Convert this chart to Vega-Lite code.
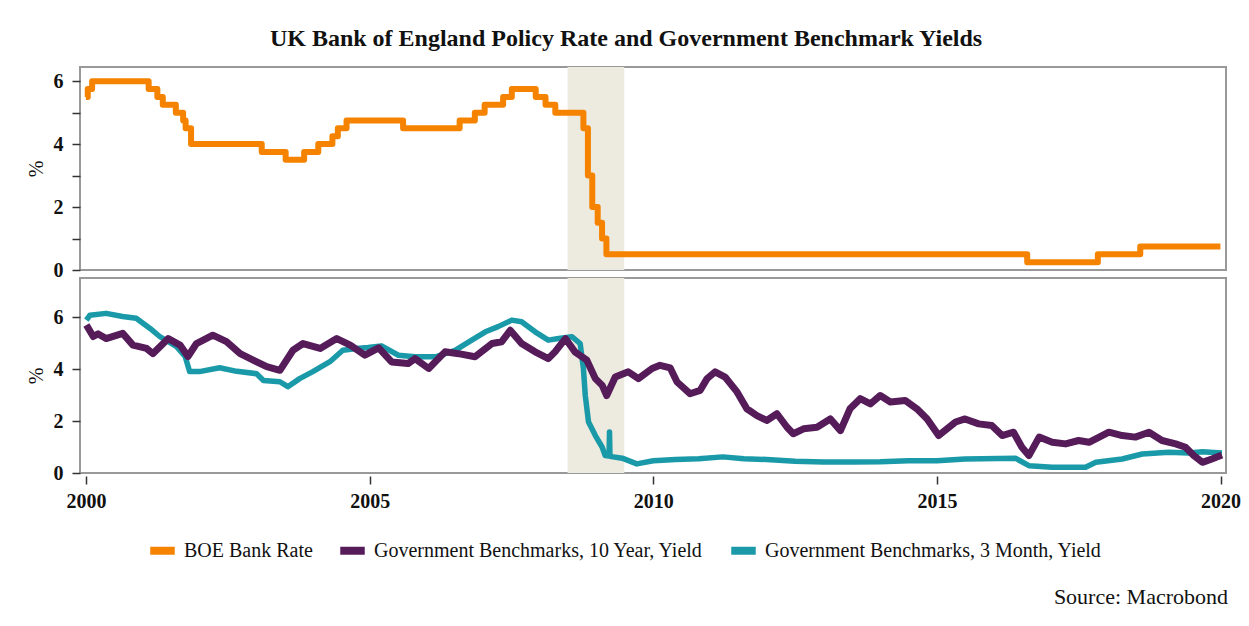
{
  "$schema": "https://vega.github.io/schema/vega-lite/v6.json",
  "background": "white",
  "padding": {"left": 25, "top": 26, "right": 10, "bottom": 10},
  "spacing": 8,
  "bounds": "flush",
  "title": {"text": "Source: Macrobond", "orient": "bottom", "anchor": "end", "frame": "group", "font": "Liberation Serif", "fontSize": 22, "fontWeight": "normal", "color": "#111", "offset": 20, "dx": 2},
  "config": {
    "view": {"stroke": "#999", "strokeWidth": 2},
    "axis": {"labelFont": "Liberation Serif", "labelFontSize": 20, "labelFontWeight": "bold", "labelColor": "#111", "titleFont": "Liberation Serif", "titleFontSize": 20, "titleFontWeight": "normal", "titleColor": "#111", "tickColor": "#333", "tickWidth": 1.5, "tickSize": 8, "domain": false, "grid": false},
    "legend": {"labelFont": "Liberation Serif", "labelFontSize": 20, "labelColor": "#111", "labelLimit": 0}
  },
  "datasets": {
    "rec": [{"a": "2008-06-28", "b": "2009-06-28"}],
    "boe": [
      {"d": "2000-01-01", "v": 5.5, "s": "BOE Bank Rate"},
      {"d": "2000-01-13", "v": 5.75, "s": "BOE Bank Rate"},
      {"d": "2000-02-10", "v": 6.0, "s": "BOE Bank Rate"},
      {"d": "2001-02-08", "v": 5.75, "s": "BOE Bank Rate"},
      {"d": "2001-04-05", "v": 5.5, "s": "BOE Bank Rate"},
      {"d": "2001-05-10", "v": 5.25, "s": "BOE Bank Rate"},
      {"d": "2001-08-02", "v": 5.0, "s": "BOE Bank Rate"},
      {"d": "2001-09-18", "v": 4.75, "s": "BOE Bank Rate"},
      {"d": "2001-10-04", "v": 4.5, "s": "BOE Bank Rate"},
      {"d": "2001-11-08", "v": 4.0, "s": "BOE Bank Rate"},
      {"d": "2003-02-06", "v": 3.75, "s": "BOE Bank Rate"},
      {"d": "2003-07-10", "v": 3.5, "s": "BOE Bank Rate"},
      {"d": "2003-11-06", "v": 3.75, "s": "BOE Bank Rate"},
      {"d": "2004-02-05", "v": 4.0, "s": "BOE Bank Rate"},
      {"d": "2004-05-06", "v": 4.25, "s": "BOE Bank Rate"},
      {"d": "2004-06-10", "v": 4.5, "s": "BOE Bank Rate"},
      {"d": "2004-08-05", "v": 4.75, "s": "BOE Bank Rate"},
      {"d": "2005-08-04", "v": 4.5, "s": "BOE Bank Rate"},
      {"d": "2006-08-03", "v": 4.75, "s": "BOE Bank Rate"},
      {"d": "2006-11-09", "v": 5.0, "s": "BOE Bank Rate"},
      {"d": "2007-01-11", "v": 5.25, "s": "BOE Bank Rate"},
      {"d": "2007-05-10", "v": 5.5, "s": "BOE Bank Rate"},
      {"d": "2007-07-05", "v": 5.75, "s": "BOE Bank Rate"},
      {"d": "2007-12-06", "v": 5.5, "s": "BOE Bank Rate"},
      {"d": "2008-02-07", "v": 5.25, "s": "BOE Bank Rate"},
      {"d": "2008-04-10", "v": 5.0, "s": "BOE Bank Rate"},
      {"d": "2008-10-08", "v": 4.5, "s": "BOE Bank Rate"},
      {"d": "2008-11-06", "v": 3.0, "s": "BOE Bank Rate"},
      {"d": "2008-12-04", "v": 2.0, "s": "BOE Bank Rate"},
      {"d": "2009-01-08", "v": 1.5, "s": "BOE Bank Rate"},
      {"d": "2009-02-05", "v": 1.0, "s": "BOE Bank Rate"},
      {"d": "2009-03-05", "v": 0.5, "s": "BOE Bank Rate"},
      {"d": "2016-08-04", "v": 0.25, "s": "BOE Bank Rate"},
      {"d": "2017-11-02", "v": 0.5, "s": "BOE Bank Rate"},
      {"d": "2018-08-02", "v": 0.75, "s": "BOE Bank Rate"},
      {"d": "2019-12-31", "v": 0.75, "s": "BOE Bank Rate"}
    ],
    "y10": [
      {"d": "2000-01-04", "v": 5.69, "s": "Government Benchmarks, 10 Year, Yield"},
      {"d": "2000-02-17", "v": 5.25, "s": "Government Benchmarks, 10 Year, Yield"},
      {"d": "2000-03-20", "v": 5.35, "s": "Government Benchmarks, 10 Year, Yield"},
      {"d": "2000-05-10", "v": 5.17, "s": "Government Benchmarks, 10 Year, Yield"},
      {"d": "2000-08-25", "v": 5.37, "s": "Government Benchmarks, 10 Year, Yield"},
      {"d": "2000-10-30", "v": 4.92, "s": "Government Benchmarks, 10 Year, Yield"},
      {"d": "2001-01-26", "v": 4.79, "s": "Government Benchmarks, 10 Year, Yield"},
      {"d": "2001-03-07", "v": 4.59, "s": "Government Benchmarks, 10 Year, Yield"},
      {"d": "2001-06-14", "v": 5.17, "s": "Government Benchmarks, 10 Year, Yield"},
      {"d": "2001-08-29", "v": 4.92, "s": "Government Benchmarks, 10 Year, Yield"},
      {"d": "2001-10-19", "v": 4.48, "s": "Government Benchmarks, 10 Year, Yield"},
      {"d": "2001-12-13", "v": 4.98, "s": "Government Benchmarks, 10 Year, Yield"},
      {"d": "2002-03-28", "v": 5.3, "s": "Government Benchmarks, 10 Year, Yield"},
      {"d": "2002-06-24", "v": 5.05, "s": "Government Benchmarks, 10 Year, Yield"},
      {"d": "2002-09-20", "v": 4.59, "s": "Government Benchmarks, 10 Year, Yield"},
      {"d": "2002-12-13", "v": 4.34, "s": "Government Benchmarks, 10 Year, Yield"},
      {"d": "2003-03-10", "v": 4.09, "s": "Government Benchmarks, 10 Year, Yield"},
      {"d": "2003-06-03", "v": 3.95, "s": "Government Benchmarks, 10 Year, Yield"},
      {"d": "2003-08-26", "v": 4.72, "s": "Government Benchmarks, 10 Year, Yield"},
      {"d": "2003-10-30", "v": 4.98, "s": "Government Benchmarks, 10 Year, Yield"},
      {"d": "2004-02-17", "v": 4.79, "s": "Government Benchmarks, 10 Year, Yield"},
      {"d": "2004-06-03", "v": 5.17, "s": "Government Benchmarks, 10 Year, Yield"},
      {"d": "2004-08-29", "v": 4.92, "s": "Government Benchmarks, 10 Year, Yield"},
      {"d": "2004-12-01", "v": 4.53, "s": "Government Benchmarks, 10 Year, Yield"},
      {"d": "2005-02-28", "v": 4.81, "s": "Government Benchmarks, 10 Year, Yield"},
      {"d": "2005-05-22", "v": 4.27, "s": "Government Benchmarks, 10 Year, Yield"},
      {"d": "2005-09-05", "v": 4.21, "s": "Government Benchmarks, 10 Year, Yield"},
      {"d": "2005-10-20", "v": 4.4, "s": "Government Benchmarks, 10 Year, Yield"},
      {"d": "2006-01-16", "v": 4.02, "s": "Government Benchmarks, 10 Year, Yield"},
      {"d": "2006-05-01", "v": 4.66, "s": "Government Benchmarks, 10 Year, Yield"},
      {"d": "2006-07-27", "v": 4.59, "s": "Government Benchmarks, 10 Year, Yield"},
      {"d": "2006-11-10", "v": 4.47, "s": "Government Benchmarks, 10 Year, Yield"},
      {"d": "2007-02-28", "v": 4.98, "s": "Government Benchmarks, 10 Year, Yield"},
      {"d": "2007-05-01", "v": 5.05, "s": "Government Benchmarks, 10 Year, Yield"},
      {"d": "2007-06-25", "v": 5.49, "s": "Government Benchmarks, 10 Year, Yield"},
      {"d": "2007-09-06", "v": 4.98, "s": "Government Benchmarks, 10 Year, Yield"},
      {"d": "2007-12-02", "v": 4.66, "s": "Government Benchmarks, 10 Year, Yield"},
      {"d": "2008-02-25", "v": 4.4, "s": "Government Benchmarks, 10 Year, Yield"},
      {"d": "2008-04-08", "v": 4.66, "s": "Government Benchmarks, 10 Year, Yield"},
      {"d": "2008-06-14", "v": 5.17, "s": "Government Benchmarks, 10 Year, Yield"},
      {"d": "2008-08-14", "v": 4.66, "s": "Government Benchmarks, 10 Year, Yield"},
      {"d": "2008-10-30", "v": 4.34, "s": "Government Benchmarks, 10 Year, Yield"},
      {"d": "2008-12-24", "v": 3.63, "s": "Government Benchmarks, 10 Year, Yield"},
      {"d": "2009-02-06", "v": 3.37, "s": "Government Benchmarks, 10 Year, Yield"},
      {"d": "2009-03-07", "v": 2.98, "s": "Government Benchmarks, 10 Year, Yield"},
      {"d": "2009-05-01", "v": 3.69, "s": "Government Benchmarks, 10 Year, Yield"},
      {"d": "2009-07-24", "v": 3.89, "s": "Government Benchmarks, 10 Year, Yield"},
      {"d": "2009-09-27", "v": 3.63, "s": "Government Benchmarks, 10 Year, Yield"},
      {"d": "2009-12-24", "v": 4.02, "s": "Government Benchmarks, 10 Year, Yield"},
      {"d": "2010-02-13", "v": 4.14, "s": "Government Benchmarks, 10 Year, Yield"},
      {"d": "2010-04-20", "v": 4.04, "s": "Government Benchmarks, 10 Year, Yield"},
      {"d": "2010-06-03", "v": 3.5, "s": "Government Benchmarks, 10 Year, Yield"},
      {"d": "2010-08-25", "v": 3.05, "s": "Government Benchmarks, 10 Year, Yield"},
      {"d": "2010-10-30", "v": 3.18, "s": "Government Benchmarks, 10 Year, Yield"},
      {"d": "2010-12-13", "v": 3.63, "s": "Government Benchmarks, 10 Year, Yield"},
      {"d": "2011-02-03", "v": 3.89, "s": "Government Benchmarks, 10 Year, Yield"},
      {"d": "2011-04-08", "v": 3.69, "s": "Government Benchmarks, 10 Year, Yield"},
      {"d": "2011-06-24", "v": 3.12, "s": "Government Benchmarks, 10 Year, Yield"},
      {"d": "2011-08-26", "v": 2.47, "s": "Government Benchmarks, 10 Year, Yield"},
      {"d": "2011-10-30", "v": 2.21, "s": "Government Benchmarks, 10 Year, Yield"},
      {"d": "2012-01-01", "v": 2.02, "s": "Government Benchmarks, 10 Year, Yield"},
      {"d": "2012-03-07", "v": 2.28, "s": "Government Benchmarks, 10 Year, Yield"},
      {"d": "2012-05-11", "v": 1.76, "s": "Government Benchmarks, 10 Year, Yield"},
      {"d": "2012-06-20", "v": 1.51, "s": "Government Benchmarks, 10 Year, Yield"},
      {"d": "2012-08-25", "v": 1.7, "s": "Government Benchmarks, 10 Year, Yield"},
      {"d": "2012-11-20", "v": 1.76, "s": "Government Benchmarks, 10 Year, Yield"},
      {"d": "2013-02-13", "v": 2.08, "s": "Government Benchmarks, 10 Year, Yield"},
      {"d": "2013-04-20", "v": 1.63, "s": "Government Benchmarks, 10 Year, Yield"},
      {"d": "2013-06-20", "v": 2.47, "s": "Government Benchmarks, 10 Year, Yield"},
      {"d": "2013-08-25", "v": 2.86, "s": "Government Benchmarks, 10 Year, Yield"},
      {"d": "2013-10-30", "v": 2.66, "s": "Government Benchmarks, 10 Year, Yield"},
      {"d": "2014-01-01", "v": 2.98, "s": "Government Benchmarks, 10 Year, Yield"},
      {"d": "2014-03-07", "v": 2.73, "s": "Government Benchmarks, 10 Year, Yield"},
      {"d": "2014-06-10", "v": 2.79, "s": "Government Benchmarks, 10 Year, Yield"},
      {"d": "2014-08-25", "v": 2.47, "s": "Government Benchmarks, 10 Year, Yield"},
      {"d": "2014-10-30", "v": 2.08, "s": "Government Benchmarks, 10 Year, Yield"},
      {"d": "2015-01-12", "v": 1.44, "s": "Government Benchmarks, 10 Year, Yield"},
      {"d": "2015-05-01", "v": 1.96, "s": "Government Benchmarks, 10 Year, Yield"},
      {"d": "2015-07-01", "v": 2.08, "s": "Government Benchmarks, 10 Year, Yield"},
      {"d": "2015-09-27", "v": 1.89, "s": "Government Benchmarks, 10 Year, Yield"},
      {"d": "2015-12-20", "v": 1.83, "s": "Government Benchmarks, 10 Year, Yield"},
      {"d": "2016-02-25", "v": 1.44, "s": "Government Benchmarks, 10 Year, Yield"},
      {"d": "2016-05-08", "v": 1.57, "s": "Government Benchmarks, 10 Year, Yield"},
      {"d": "2016-07-01", "v": 0.99, "s": "Government Benchmarks, 10 Year, Yield"},
      {"d": "2016-08-15", "v": 0.67, "s": "Government Benchmarks, 10 Year, Yield"},
      {"d": "2016-10-20", "v": 1.38, "s": "Government Benchmarks, 10 Year, Yield"},
      {"d": "2017-01-12", "v": 1.18, "s": "Government Benchmarks, 10 Year, Yield"},
      {"d": "2017-04-08", "v": 1.12, "s": "Government Benchmarks, 10 Year, Yield"},
      {"d": "2017-07-01", "v": 1.25, "s": "Government Benchmarks, 10 Year, Yield"},
      {"d": "2017-09-06", "v": 1.18, "s": "Government Benchmarks, 10 Year, Yield"},
      {"d": "2018-01-12", "v": 1.57, "s": "Government Benchmarks, 10 Year, Yield"},
      {"d": "2018-04-08", "v": 1.44, "s": "Government Benchmarks, 10 Year, Yield"},
      {"d": "2018-07-01", "v": 1.38, "s": "Government Benchmarks, 10 Year, Yield"},
      {"d": "2018-09-27", "v": 1.57, "s": "Government Benchmarks, 10 Year, Yield"},
      {"d": "2018-12-20", "v": 1.25, "s": "Government Benchmarks, 10 Year, Yield"},
      {"d": "2019-03-18", "v": 1.12, "s": "Government Benchmarks, 10 Year, Yield"},
      {"d": "2019-05-20", "v": 0.99, "s": "Government Benchmarks, 10 Year, Yield"},
      {"d": "2019-07-12", "v": 0.67, "s": "Government Benchmarks, 10 Year, Yield"},
      {"d": "2019-09-06", "v": 0.41, "s": "Government Benchmarks, 10 Year, Yield"},
      {"d": "2019-11-06", "v": 0.54, "s": "Government Benchmarks, 10 Year, Yield"},
      {"d": "2020-01-10", "v": 0.69, "s": "Government Benchmarks, 10 Year, Yield"}
    ],
    "m3": [
      {"d": "2000-01-04", "v": 5.88, "s": "Government Benchmarks, 3 Month, Yield"},
      {"d": "2000-01-27", "v": 6.07, "s": "Government Benchmarks, 3 Month, Yield"},
      {"d": "2000-05-10", "v": 6.14, "s": "Government Benchmarks, 3 Month, Yield"},
      {"d": "2000-08-25", "v": 6.02, "s": "Government Benchmarks, 3 Month, Yield"},
      {"d": "2000-11-20", "v": 5.95, "s": "Government Benchmarks, 3 Month, Yield"},
      {"d": "2001-02-17", "v": 5.56, "s": "Government Benchmarks, 3 Month, Yield"},
      {"d": "2001-04-20", "v": 5.25, "s": "Government Benchmarks, 3 Month, Yield"},
      {"d": "2001-08-07", "v": 4.86, "s": "Government Benchmarks, 3 Month, Yield"},
      {"d": "2001-10-01", "v": 4.48, "s": "Government Benchmarks, 3 Month, Yield"},
      {"d": "2001-10-30", "v": 3.9, "s": "Government Benchmarks, 3 Month, Yield"},
      {"d": "2002-01-01", "v": 3.9, "s": "Government Benchmarks, 3 Month, Yield"},
      {"d": "2002-05-11", "v": 4.05, "s": "Government Benchmarks, 3 Month, Yield"},
      {"d": "2002-08-29", "v": 3.91, "s": "Government Benchmarks, 3 Month, Yield"},
      {"d": "2003-01-04", "v": 3.82, "s": "Government Benchmarks, 3 Month, Yield"},
      {"d": "2003-02-17", "v": 3.56, "s": "Government Benchmarks, 3 Month, Yield"},
      {"d": "2003-06-03", "v": 3.51, "s": "Government Benchmarks, 3 Month, Yield"},
      {"d": "2003-07-24", "v": 3.32, "s": "Government Benchmarks, 3 Month, Yield"},
      {"d": "2003-10-08", "v": 3.63, "s": "Government Benchmarks, 3 Month, Yield"},
      {"d": "2004-01-01", "v": 3.9, "s": "Government Benchmarks, 3 Month, Yield"},
      {"d": "2004-04-20", "v": 4.28, "s": "Government Benchmarks, 3 Month, Yield"},
      {"d": "2004-07-12", "v": 4.72, "s": "Government Benchmarks, 3 Month, Yield"},
      {"d": "2004-10-08", "v": 4.79, "s": "Government Benchmarks, 3 Month, Yield"},
      {"d": "2004-12-20", "v": 4.83, "s": "Government Benchmarks, 3 Month, Yield"},
      {"d": "2005-03-18", "v": 4.89, "s": "Government Benchmarks, 3 Month, Yield"},
      {"d": "2005-07-05", "v": 4.53, "s": "Government Benchmarks, 3 Month, Yield"},
      {"d": "2005-10-20", "v": 4.47, "s": "Government Benchmarks, 3 Month, Yield"},
      {"d": "2006-03-01", "v": 4.47, "s": "Government Benchmarks, 3 Month, Yield"},
      {"d": "2006-07-05", "v": 4.72, "s": "Government Benchmarks, 3 Month, Yield"},
      {"d": "2006-10-20", "v": 5.11, "s": "Government Benchmarks, 3 Month, Yield"},
      {"d": "2007-01-16", "v": 5.43, "s": "Government Benchmarks, 3 Month, Yield"},
      {"d": "2007-04-08", "v": 5.63, "s": "Government Benchmarks, 3 Month, Yield"},
      {"d": "2007-07-05", "v": 5.88, "s": "Government Benchmarks, 3 Month, Yield"},
      {"d": "2007-09-06", "v": 5.82, "s": "Government Benchmarks, 3 Month, Yield"},
      {"d": "2007-12-02", "v": 5.43, "s": "Government Benchmarks, 3 Month, Yield"},
      {"d": "2008-02-25", "v": 5.11, "s": "Government Benchmarks, 3 Month, Yield"},
      {"d": "2008-05-01", "v": 5.17, "s": "Government Benchmarks, 3 Month, Yield"},
      {"d": "2008-07-27", "v": 5.24, "s": "Government Benchmarks, 3 Month, Yield"},
      {"d": "2008-09-17", "v": 4.98, "s": "Government Benchmarks, 3 Month, Yield"},
      {"d": "2008-10-08", "v": 4.02, "s": "Government Benchmarks, 3 Month, Yield"},
      {"d": "2008-10-20", "v": 2.98, "s": "Government Benchmarks, 3 Month, Yield"},
      {"d": "2008-11-10", "v": 1.96, "s": "Government Benchmarks, 3 Month, Yield"},
      {"d": "2008-12-24", "v": 1.44, "s": "Government Benchmarks, 3 Month, Yield"},
      {"d": "2009-02-06", "v": 0.99, "s": "Government Benchmarks, 3 Month, Yield"},
      {"d": "2009-02-25", "v": 0.67, "s": "Government Benchmarks, 3 Month, Yield"},
      {"d": "2009-03-22", "v": 0.65, "s": "Government Benchmarks, 3 Month, Yield"},
      {"d": "2009-03-25", "v": 1.58, "s": "Government Benchmarks, 3 Month, Yield"},
      {"d": "2009-03-28", "v": 0.64, "s": "Government Benchmarks, 3 Month, Yield"},
      {"d": "2009-06-14", "v": 0.57, "s": "Government Benchmarks, 3 Month, Yield"},
      {"d": "2009-09-17", "v": 0.35, "s": "Government Benchmarks, 3 Month, Yield"},
      {"d": "2010-01-01", "v": 0.47, "s": "Government Benchmarks, 3 Month, Yield"},
      {"d": "2010-05-25", "v": 0.52, "s": "Government Benchmarks, 3 Month, Yield"},
      {"d": "2010-10-20", "v": 0.55, "s": "Government Benchmarks, 3 Month, Yield"},
      {"d": "2011-03-25", "v": 0.62, "s": "Government Benchmarks, 3 Month, Yield"},
      {"d": "2011-08-07", "v": 0.55, "s": "Government Benchmarks, 3 Month, Yield"},
      {"d": "2012-01-01", "v": 0.52, "s": "Government Benchmarks, 3 Month, Yield"},
      {"d": "2012-07-01", "v": 0.45, "s": "Government Benchmarks, 3 Month, Yield"},
      {"d": "2013-01-01", "v": 0.42, "s": "Government Benchmarks, 3 Month, Yield"},
      {"d": "2013-07-01", "v": 0.42, "s": "Government Benchmarks, 3 Month, Yield"},
      {"d": "2014-01-01", "v": 0.43, "s": "Government Benchmarks, 3 Month, Yield"},
      {"d": "2014-07-01", "v": 0.47, "s": "Government Benchmarks, 3 Month, Yield"},
      {"d": "2015-01-01", "v": 0.47, "s": "Government Benchmarks, 3 Month, Yield"},
      {"d": "2015-07-01", "v": 0.54, "s": "Government Benchmarks, 3 Month, Yield"},
      {"d": "2016-05-20", "v": 0.57, "s": "Government Benchmarks, 3 Month, Yield"},
      {"d": "2016-08-15", "v": 0.28, "s": "Government Benchmarks, 3 Month, Yield"},
      {"d": "2017-01-12", "v": 0.22, "s": "Government Benchmarks, 3 Month, Yield"},
      {"d": "2017-08-15", "v": 0.22, "s": "Government Benchmarks, 3 Month, Yield"},
      {"d": "2017-10-20", "v": 0.41, "s": "Government Benchmarks, 3 Month, Yield"},
      {"d": "2018-04-08", "v": 0.54, "s": "Government Benchmarks, 3 Month, Yield"},
      {"d": "2018-08-15", "v": 0.73, "s": "Government Benchmarks, 3 Month, Yield"},
      {"d": "2019-02-01", "v": 0.8, "s": "Government Benchmarks, 3 Month, Yield"},
      {"d": "2019-06-10", "v": 0.77, "s": "Government Benchmarks, 3 Month, Yield"},
      {"d": "2019-09-06", "v": 0.82, "s": "Government Benchmarks, 3 Month, Yield"},
      {"d": "2020-01-10", "v": 0.77, "s": "Government Benchmarks, 3 Month, Yield"}
    ]
  },
  "resolve": {"scale": {"color": "shared"}},
  "vconcat": [
    {
      "width": 1146,
      "height": 203,
      "title": {"text": "UK Bank of England Policy Rate and Government Benchmark Yields", "anchor": "middle", "frame": "bounds", "font": "Liberation Serif", "fontSize": 24, "fontWeight": "bold", "color": "#111", "offset": 16},
      "layer": [
        {
          "data": {"name": "rec"},
          "mark": {"type": "rect", "color": "#EDEAE0"},
          "encoding": {
            "x": {"field": "a", "type": "temporal", "scale": {"type": "utc", "domain": [{"year": 1999, "month": 11, "date": 24, "utc": true}, {"year": 2020, "month": 2, "date": 5, "utc": true}]}, "axis": null},
            "x2": {"field": "b"}
          }
        },
        {
          "data": {"name": "boe"},
          "mark": {"type": "line", "strokeWidth": 6, "interpolate": "step-after", "strokeJoin": "round"},
          "encoding": {
            "x": {"field": "d", "type": "temporal", "scale": {"type": "utc", "domain": [{"year": 1999, "month": 11, "date": 24, "utc": true}, {"year": 2020, "month": 2, "date": 5, "utc": true}]}, "axis": null},
            "y": {"field": "v", "type": "quantitative", "scale": {"domain": [0, 6.45], "nice": false}, "axis": {"title": "%", "values": [0, 1, 2, 3, 4, 5, 6], "labelExpr": "datum.value % 2 === 0 ? datum.label : ''", "labelPadding": 9, "titlePadding": 7}},
            "color": {"field": "s", "type": "nominal", "scale": {"domain": ["BOE Bank Rate", "Government Benchmarks, 10 Year, Yield", "Government Benchmarks, 3 Month, Yield"], "range": ["#F58300", "#561C5A", "#1A9AA8"]}, "legend": {"title": null, "orient": "none", "legendX": 66, "legendY": 467, "direction": "horizontal", "symbolType": "stroke", "symbolStrokeWidth": 8, "symbolSize": 600, "columnPadding": 11, "labelOffset": 5}}
          }
        }
      ]
    },
    {
      "width": 1146,
      "height": 195,
      "layer": [
        {
          "data": {"name": "rec"},
          "mark": {"type": "rect", "color": "#EDEAE0"},
          "encoding": {
            "x": {"field": "a", "type": "temporal", "scale": {"type": "utc", "domain": [{"year": 1999, "month": 11, "date": 24, "utc": true}, {"year": 2020, "month": 2, "date": 5, "utc": true}]}, "axis": {"title": null, "format": "%Y", "values": [{"year": 2000, "utc": true}, {"year": 2005, "utc": true}, {"year": 2010, "utc": true}, {"year": 2015, "utc": true}, {"year": 2020, "utc": true}], "offset": 3, "labelPadding": 7}},
            "x2": {"field": "b"}
          }
        },
        {
          "data": {"name": "m3"},
          "mark": {"type": "line", "strokeWidth": 5.5, "strokeJoin": "round"},
          "encoding": {
            "x": {"field": "d", "type": "temporal"},
            "y": {"field": "v", "type": "quantitative", "scale": {"domain": [0, 7.5], "nice": false}, "axis": {"title": "%", "values": [0, 1, 2, 3, 4, 5, 6, 7], "labelExpr": "datum.value % 2 === 0 ? datum.label : ''", "labelPadding": 9, "titlePadding": 7}},
            "color": {"field": "s", "type": "nominal", "legend": {"title": null, "orient": "none", "legendX": 66, "legendY": 467, "direction": "horizontal", "symbolType": "stroke", "symbolStrokeWidth": 8, "symbolSize": 600, "columnPadding": 11, "labelOffset": 5}}
          }
        },
        {
          "data": {"name": "y10"},
          "mark": {"type": "line", "strokeWidth": 7, "strokeJoin": "round"},
          "encoding": {
            "x": {"field": "d", "type": "temporal"},
            "y": {"field": "v", "type": "quantitative"},
            "color": {"field": "s", "type": "nominal", "legend": {"title": null, "orient": "none", "legendX": 66, "legendY": 467, "direction": "horizontal", "symbolType": "stroke", "symbolStrokeWidth": 8, "symbolSize": 600, "columnPadding": 11, "labelOffset": 5}}
          }
        }
      ]
    }
  ]
}
